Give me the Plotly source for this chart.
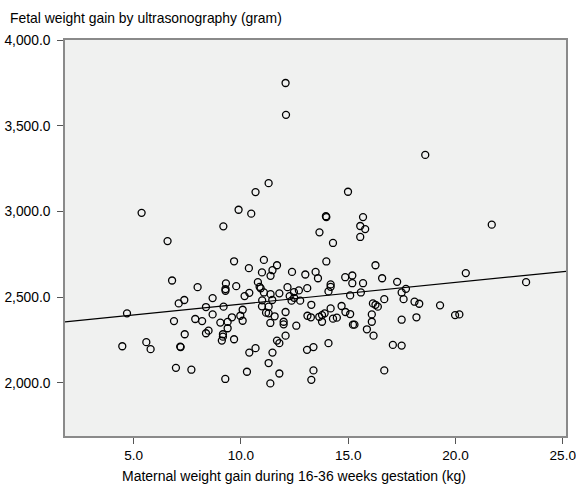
import plotly.graph_objects as go
import numpy as np

# Maternal weight gain (kg) and fetal weight gain (gram)
maternal_gain = [
    12.08, 12.10, 18.59, 11.29, 10.68, 14.99, 9.89, 10.48, 5.37, 9.18,
    13.98, 13.96, 15.69, 15.56, 15.79, 15.56, 13.66, 14.29, 6.58, 21.69,
    9.68, 11.07, 11.68, 11.47, 10.37, 10.98, 11.38, 12.38, 13.00, 13.48,
    13.59, 13.98, 14.86, 15.19, 15.19, 15.69, 16.27, 16.58, 9.30, 9.28,
    9.28, 9.78, 10.79, 10.87, 10.92, 10.39, 10.17, 11.07, 11.38, 11.79,
    12.17, 12.47, 12.70, 13.09, 12.27, 12.48, 12.36, 12.76, 11.46, 10.99,
    14.18, 14.18, 14.08, 15.09, 15.59, 16.68, 16.15, 16.27, 16.38, 9.19,
    10.08, 10.98, 11.29, 11.17, 11.29, 12.08, 13.28, 14.18, 14.69, 14.87,
    15.09, 16.10, 9.58, 9.97, 11.57, 9.38, 10.08, 9.04, 9.38, 9.16,
    9.16, 9.68, 11.37, 11.99, 11.99, 12.58, 12.08, 11.68, 11.79, 10.68,
    10.39, 11.47, 11.29, 10.28, 11.79, 11.37, 9.27, 13.08, 13.38, 14.08,
    13.38, 13.28, 16.68, 13.10, 13.26, 13.65, 13.78, 13.90, 13.78, 14.29,
    14.47, 15.22, 15.29, 16.10, 15.87, 16.18, 4.69, 7.10, 7.36, 8.37,
    8.68, 6.88, 7.87, 8.19, 7.38, 8.37, 8.49, 9.11, 4.47, 5.59,
    5.79, 7.17, 7.19, 6.97, 7.69, 6.79, 7.98, 8.68, 20.48, 23.29,
    17.28, 17.69, 17.49, 17.58, 18.09, 18.31, 19.28, 19.98, 20.18, 17.49,
    18.18, 17.08, 17.49,
]
fetal_gain = [
    3750, 3564, 3330, 3165, 3113, 3115, 3010, 2987, 2992, 2913,
    2967, 2972, 2967, 2915, 2897, 2851, 2878, 2816, 2827, 2923,
    2709, 2717, 2686, 2657, 2669, 2644, 2624, 2647, 2632, 2647,
    2610, 2708, 2616, 2626, 2581, 2581, 2686, 2610, 2580, 2547,
    2537, 2564, 2587, 2560, 2551, 2525, 2506, 2527, 2517, 2522,
    2558, 2529, 2539, 2552, 2506, 2496, 2479, 2479, 2483, 2481,
    2574, 2560, 2533, 2510, 2527, 2488, 2463, 2455, 2444, 2444,
    2426, 2446, 2444, 2409, 2405, 2413, 2455, 2434, 2448, 2413,
    2401, 2399, 2382, 2391, 2388, 2355, 2362, 2351, 2318, 2283,
    2269, 2254, 2349, 2356, 2341, 2333, 2275, 2246, 2231, 2202,
    2176, 2176, 2115, 2064, 2054, 1996, 2022, 2192, 2208, 2231,
    2072, 2017, 2072, 2391, 2382, 2385, 2395, 2405, 2356, 2374,
    2380, 2339, 2339, 2356, 2312, 2275, 2405, 2463, 2483, 2442,
    2399, 2360, 2372, 2360, 2283, 2289, 2304, 2246, 2213, 2237,
    2196, 2211, 2208, 2087, 2076, 2597, 2558, 2494, 2640, 2587,
    2589, 2548, 2527, 2488, 2473, 2461, 2452, 2395, 2399, 2368,
    2382, 2221, 2217,
]

# Fit line
fit_intercept = 2333.0
fit_slope = 12.63

x_range = [1.80, 25.15]
y_range = [1689, 4001]
x_ticks = [5, 10, 15, 20, 25]
y_ticks = [2000, 2500, 3000, 3500, 4000]

FONT = "Liberation Sans, Arial, sans-serif"

fig = go.Figure()
fig.add_trace(go.Scatter(
    x=maternal_gain, y=fetal_gain, mode="markers",
    marker=dict(symbol="circle-open", size=7, color="black",
                line=dict(width=1.3, color="black")),
    showlegend=False, hoverinfo="x+y",
))
line_x = np.array(x_range)
fig.add_trace(go.Scatter(
    x=line_x, y=fit_intercept + fit_slope * line_x, mode="lines",
    line=dict(color="black", width=1.2), showlegend=False, hoverinfo="skip",
))

fig.update_layout(
    width=576, height=488,
    margin=dict(l=64.7, r=10, t=39.5, b=51.5),
    paper_bgcolor="white", plot_bgcolor="#f0f1f0",
    font=dict(family=FONT, size=13.8, color="black"),
    xaxis=dict(range=x_range, tickvals=x_ticks, tickformat=".1f",
               showgrid=False, zeroline=False, showline=True, mirror=True,
               linecolor="#8a8a8a", linewidth=1.5, ticks="outside",
               ticklen=6, tickcolor="#555555", tickwidth=1.3,
               tickfont=dict(size=13.6), automargin=False,
               ticklabeloverflow="allow"),
    yaxis=dict(range=y_range, tickvals=y_ticks, tickformat=",.1f",
               showgrid=False, zeroline=False, showline=True, mirror=True,
               linecolor="#8a8a8a", linewidth=1.5, ticks="outside",
               ticklen=6, tickcolor="#555555", tickwidth=1.3,
               ticklabelstandoff=4, tickfont=dict(size=13.8),
               automargin=False, ticklabeloverflow="allow"),
    annotations=[
        dict(text="Fetal weight gain by ultrasonography (gram)",
             xref="paper", yref="paper", x=0, y=1, xanchor="left",
             yanchor="middle", xshift=-57.5, yshift=22, showarrow=False,
             font=dict(family=FONT, size=13.9, color="black")),
        dict(text="Maternal weight gain during 16-36 weeks gestation (kg)",
             xref="paper", yref="paper", x=0, y=0, xanchor="center",
             yanchor="middle", xshift=228.6, yshift=-40, showarrow=False,
             font=dict(family=FONT, size=14, color="black")),
    ],
)

fig.write_html("out.html")
